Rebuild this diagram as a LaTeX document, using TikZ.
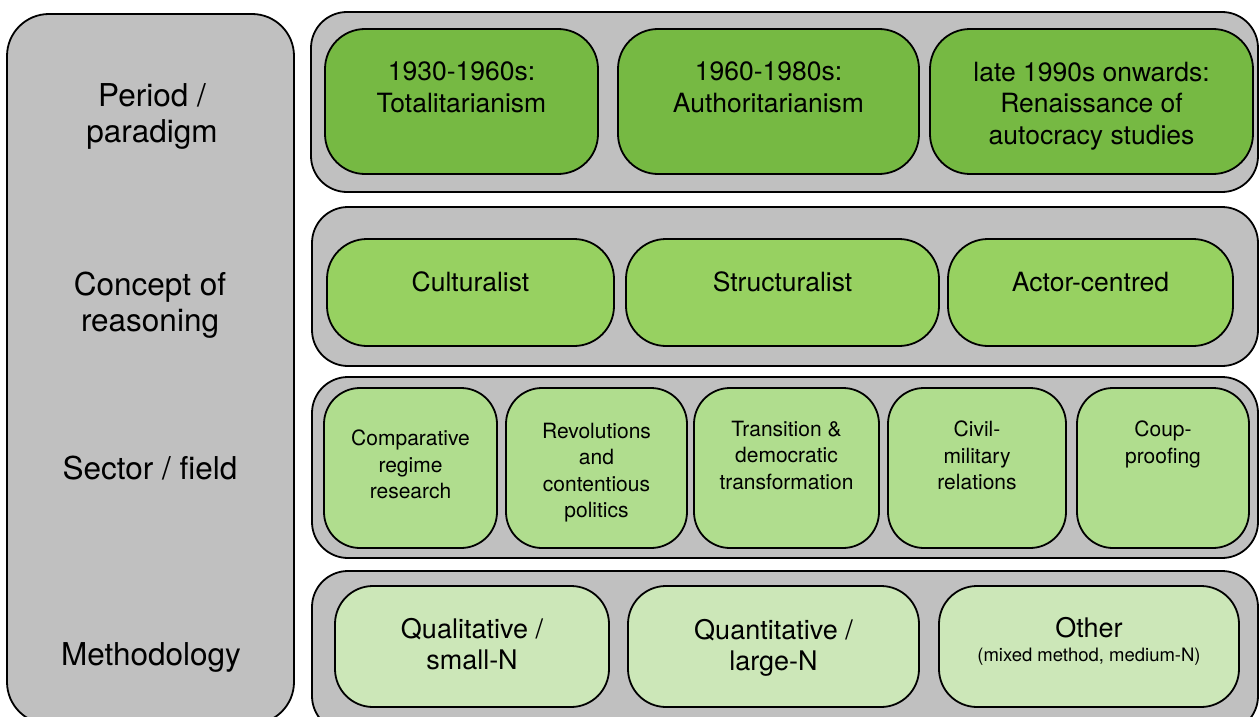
\documentclass[tikz,border=0pt]{standalone}
\usepackage{fontspec}
\setmainfont{TeX Gyre Heros}
\definecolor{pgray}{RGB}{192,192,192}
\definecolor{gA}{RGB}{118,185,67}
\definecolor{gB}{RGB}{151,209,97}
\definecolor{gC}{RGB}{176,221,142}
\definecolor{gD}{RGB}{204,231,184}
\newcommand{\szLeft}{\fontsize{31.5}{36}\selectfont}
\newcommand{\szTop}{\fontsize{26.5}{31.5}\selectfont}
\newcommand{\szSec}{\fontsize{21}{26.5}\selectfont}
\newcommand{\szMeth}{\fontsize{27}{31}\selectfont}
\newcommand{\szSmall}{\fontsize{18.5}{22}\selectfont}
\newcommand{\cbox}[6]{\node[#6, minimum width={#4pt-#2pt}, minimum height={#5pt-#3pt}] (#1) at (#2,#3) {};}
\tikzset{
  base box/.style={draw=black, line width=1.8pt, inner sep=0pt, outer sep=0pt, anchor=north west},
  colbox/.style={base box, fill=pgray, rounded corners=42pt},
  panelbox/.style={base box, fill=pgray, rounded corners=36pt},
  periodbox/.style={base box, fill=gA, rounded corners=40pt},
  reasonbox/.style={base box, fill=gB, rounded corners=40pt},
  sectorbox/.style={base box, fill=gC, rounded corners=36pt},
  methbox/.style={base box, fill=gD, rounded corners=38pt},
  lbl/.style={align=center, inner sep=0pt, outer sep=0pt, anchor=north, text=black},
}
\begin{document}
\begin{tikzpicture}[x=1pt,y=-1pt]
\useasboundingbox (0,0) rectangle (1259,717);
\clip (0,0) rectangle (1259,717);
% left column
\cbox{col}{7}{14}{294}{724}{colbox}
% panels
\cbox{p1}{311}{12}{1258}{192}{panelbox}
\cbox{p2}{312}{207}{1258}{366}{panelbox}
\cbox{p3}{312}{377}{1258}{558}{panelbox}
\cbox{p4}{312}{571}{1258}{732}{panelbox}
% row 1
\cbox{a1}{325}{29}{598}{174}{periodbox}
\cbox{a2}{618}{29}{919}{174}{periodbox}
\cbox{a3}{930}{29}{1253}{174}{periodbox}
% row 2
\cbox{b1}{327}{239}{614}{346}{reasonbox}
\cbox{b2}{626}{239}{939}{346}{reasonbox}
\cbox{b3}{948}{239}{1233}{346}{reasonbox}
% row 3
\cbox{c1}{324}{388}{497}{548}{sectorbox}
\cbox{c2}{506}{388}{687}{548}{sectorbox}
\cbox{c3}{694}{388}{879}{548}{sectorbox}
\cbox{c4}{888}{388}{1066}{548}{sectorbox}
\cbox{c5}{1077}{388}{1249}{548}{sectorbox}
% row 4
\cbox{d1}{335}{586}{609}{707}{methbox}
\cbox{d2}{628}{586}{919}{707}{methbox}
\cbox{d3}{939}{586}{1239}{707}{methbox}
% left labels
\node[lbl, font=\szLeft] (tl1) at (152,84) {Period /\\paradigm};
\node[lbl, font=\szLeft] (tl2) at (150,272) {Concept of\\reasoning};
\node[lbl, font=\szLeft] (tl3) at (150,456) {Sector / field};
\node[lbl, font=\szLeft] (tl4) at (151,643) {Methodology};
% row 1 labels
\node[lbl, font=\szTop] (ta1) at (461.5,62) {1930-1960s:\\Totalitarianism};
\node[lbl, font=\szTop] (ta2) at (768.5,62) {1960-1980s:\\Authoritarianism};
\node[lbl, font=\szTop] (ta3) at (1091.5,62) {late 1990s onwards:\\Renaissance of\\autocracy studies};
% row 2 labels
\node[lbl, font=\szTop] (tb1) at (470.5,272) {Culturalist};
\node[lbl, font=\szTop] (tb2) at (782.5,272) {Structuralist};
\node[lbl, font=\szTop] (tb3) at (1090.5,272) {Actor-centred};
% row 3 labels
\node[lbl, font=\szSec] (tc1) at (410.5,430) {Comparative\\regime\\research};
\node[lbl, font=\szSec] (tc2) at (596.5,423) {Revolutions\\and\\contentious\\politics};
\node[lbl, font=\szSec] (tc3) at (786.5,421) {Transition \&\\democratic\\transformation};
\node[lbl, font=\szSec] (tc4) at (977,421) {Civil-\\military\\relations};
\node[lbl, font=\szSec] (tc5) at (1163,421) {Coup-\\proofing};
% row 4 labels
\node[lbl, font=\szMeth] (td1) at (472,618) {Qualitative /\\small-N};
\node[lbl, font=\szMeth] (td2) at (773.5,619) {Quantitative /\\large-N};
\node[lbl, font=\szMeth] (td3) at (1089,617) {Other};
\node[lbl, font=\szSmall] (td3b) at (1089,648) {(mixed method, medium-N)};
\end{tikzpicture}
\end{document}
